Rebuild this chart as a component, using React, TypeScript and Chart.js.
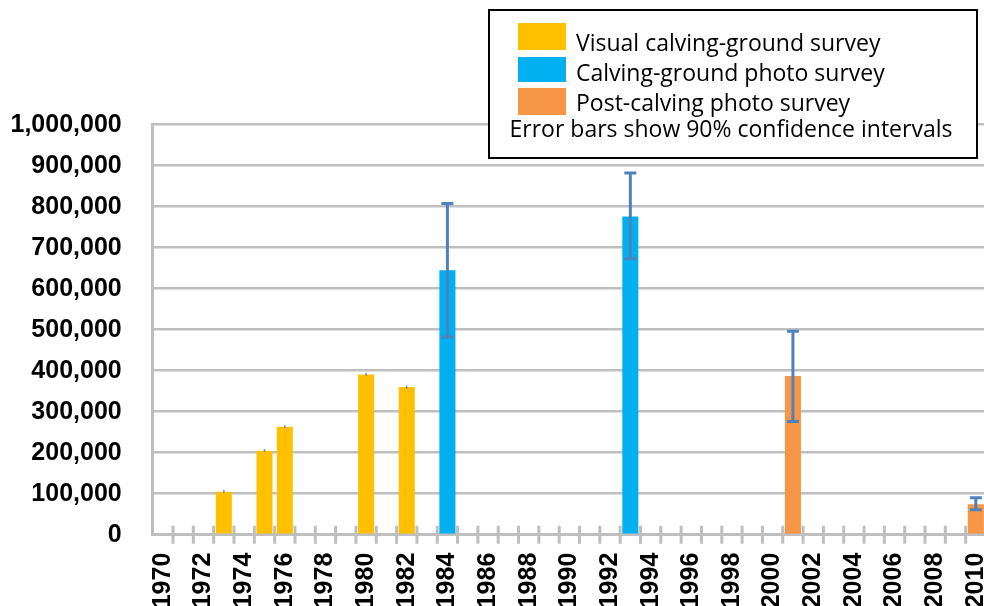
import { useEffect, useRef } from "react";
import { Chart, registerables } from "chart.js";

Chart.register(...registerables);

const years = [
  "1970", "1971", "1972", "1973", "1974", "1975", "1976", "1977", "1978", "1979",
  "1980", "1981", "1982", "1983", "1984", "1985", "1986", "1987", "1988", "1989",
  "1990", "1991", "1992", "1993", "1994", "1995", "1996", "1997", "1998", "1999",
  "2000", "2001", "2002", "2003", "2004", "2005", "2006", "2007", "2008", "2009",
  "2010",
];

const visualYears = ["1973", "1975", "1976", "1980", "1982"];
const visualValues = [105000, 205000, 263000, 391000, 360000];
const visualLow = [101000, 201000, 259000, 387000, 356000];
const visualHigh = [109000, 209000, 267000, 395000, 364000];

const photoYears = ["1984", "1993"];
const photoValues = [645000, 776000];
const photoLow = [482000, 673000];
const photoHigh = [808000, 882000];

const postYears = ["2001", "2010"];
const postValues = [387000, 74000];
const postLow = [276000, 61000];
const postHigh = [496000, 90000];

const seriesNames = [
  "Visual calving-ground survey",
  "Calving-ground photo survey",
  "Post-calving photo survey",
];
const noteText = "Error bars show 90% confidence intervals";

const colors = ["#FFC000", "#00B0F0", "#F79646"];
const GRID = "#BFBFBF";
const AXIS_FONT = { family: '"Liberation Sans", Arial, sans-serif', size: 25, weight: "bold" };

const tickMarksPlugin = {
  id: "tickMarks",
  beforeDatasetsDraw(chart: any) {
    const x = chart.scales.x;
    const ctx = chart.ctx;
    const n = chart.data.labels.length;
    const w = (x.right - x.left) / n;
    const b = chart.chartArea.bottom;
    ctx.save();
    ctx.strokeStyle = GRID;
    ctx.lineWidth = 3;
    ctx.beginPath();
    for (let i = 1; i <= n; i++) {
      const px = x.left + i * w;
      ctx.moveTo(px, b - 9);
      ctx.lineTo(px, b + 9);
    }
    ctx.stroke();
    ctx.restore();
  },
};

const errorBarPlugin = {
  id: "errorBars",
  afterDatasetsDraw(chart: any) {
    const ctx = chart.ctx;
    const y = chart.scales.y;
    chart.data.datasets.forEach((ds: any, di: number) => {
      const meta = chart.getDatasetMeta(di);
      meta.data.forEach((el: any, i: number) => {
        const yl = y.getPixelForValue(ds.errLow[i]);
        const yh = y.getPixelForValue(ds.errHigh[i]);
        const px = el.x;
        ctx.save();
        ctx.strokeStyle = ds.errColor;
        ctx.lineWidth = ds.errWidth;
        ctx.beginPath();
        ctx.moveTo(px, yl);
        ctx.lineTo(px, yh);
        if (ds.errCap > 0) {
          ctx.moveTo(px - ds.errCap / 2, yl);
          ctx.lineTo(px + ds.errCap / 2, yl);
          ctx.moveTo(px - ds.errCap / 2, yh);
          ctx.lineTo(px + ds.errCap / 2, yh);
        }
        ctx.stroke();
        ctx.restore();
      });
    });
  },
};

const legendBoxPlugin = {
  id: "legendBox",
  afterDraw(chart: any) {
    const ctx = chart.ctx;
    ctx.save();
    ctx.fillStyle = "#FFFFFF";
    ctx.fillRect(489, 10, 488, 148);
    ctx.strokeStyle = "#000000";
    ctx.lineWidth = 2;
    ctx.strokeRect(489, 10, 488, 148);
    const swatches = [
      [518, 23, 48, 27],
      [518, 57, 48, 25],
      [518, 88, 48, 27],
    ];
    const baselines = [51, 81, 111];
    ctx.font = '23px "Open Sans"';
    ctx.textBaseline = "alphabetic";
    ctx.textAlign = "left";
    chart.data.datasets.forEach((ds: any, i: number) => {
      const s = swatches[i];
      ctx.fillStyle = ds.backgroundColor;
      ctx.fillRect(s[0], s[1], s[2], s[3]);
      ctx.fillStyle = "#000000";
      ctx.fillText(ds.label, 576, baselines[i]);
    });
    ctx.textAlign = "center";
    ctx.fillText(noteText, 731, 137);
    ctx.restore();
  },
};

function toPoints(xs: string[], ys: number[]) {
  return xs.map((x, i) => ({ x, y: ys[i] }));
}

export default function App() {
  const ref = useRef<HTMLCanvasElement | null>(null);

  useEffect(() => {
    if (!ref.current) return;
    const chart = new Chart(ref.current, {
      type: "bar",
      data: {
        labels: years,
        datasets: [
          {
            label: seriesNames[0],
            data: toPoints(visualYears, visualValues),
            backgroundColor: colors[0],
            errLow: visualLow,
            errHigh: visualHigh,
            errColor: "rgba(79,129,189,0.8)",
            errWidth: 1.5,
            errCap: 0,
          } as any,
          {
            label: seriesNames[1],
            data: toPoints(photoYears, photoValues),
            backgroundColor: colors[1],
            errLow: photoLow,
            errHigh: photoHigh,
            errColor: "#4F81BD",
            errWidth: 3,
            errCap: 12,
          } as any,
          {
            label: seriesNames[2],
            data: toPoints(postYears, postValues),
            backgroundColor: colors[2],
            errLow: postLow,
            errHigh: postHigh,
            errColor: "#4F81BD",
            errWidth: 3,
            errCap: 12,
          } as any,
        ],
      },
      options: {
        animation: false,
        responsive: false,
        devicePixelRatio: 1,
        layout: {
          autoPadding: false,
          padding: { left: 8, top: 124.7, right: 0, bottom: 0 },
        },
        datasets: {
          bar: {
            grouped: false,
            barPercentage: 0.79,
            categoryPercentage: 1,
          },
        },
        plugins: {
          legend: { display: false },
          tooltip: { enabled: false },
        },
        scales: {
          x: {
            type: "category",
            grid: { display: false },
            border: { display: true, color: GRID, width: 3 },
            ticks: {
              autoSkip: false,
              minRotation: 90,
              maxRotation: 90,
              padding: 10,
              color: "#000000",
              font: AXIS_FONT,
              callback: (_v: any, i: number) => (i % 2 === 0 ? years[i] : ""),
            },
            afterFit: (s: any) => {
              s.height = 650 - 534.7;
              s.paddingLeft = 0;
              s.paddingRight = 0;
            },
          },
          y: {
            min: 0,
            max: 1000000,
            grid: { color: GRID, lineWidth: 2.5, drawTicks: false },
            border: { display: true, color: GRID, width: 3 },
            ticks: {
              stepSize: 100000,
              padding: 31,
              color: "#000000",
              font: AXIS_FONT,
              callback: (v: any) => Number(v).toLocaleString("en-US"),
            },
            afterFit: (s: any) => {
              s.width = 144.7;
              s.paddingTop = 0;
              s.paddingBottom = 0;
            },
          },
        },
      },
      plugins: [tickMarksPlugin, errorBarPlugin, legendBoxPlugin],
    } as any);
    return () => chart.destroy();
  }, []);

  return (
    <div
      style={{
        position: "fixed",
        left: 0,
        top: 0,
        width: 984,
        height: 606,
        overflow: "hidden",
        background: "#FFFFFF",
      }}
    >
      <canvas ref={ref} width={986} height={650} style={{ display: "block" }} />
    </div>
  );
}
